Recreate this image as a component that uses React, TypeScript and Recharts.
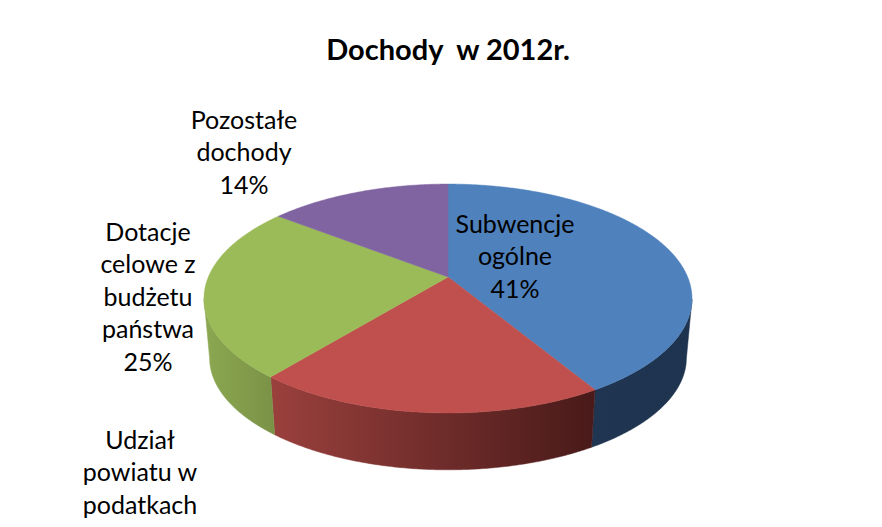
import { PieChart, Pie } from 'recharts';

const title = 'Dochody\u00a0 w 2012r.';
const categories = ['Subwencje ogólne', 'Udział powiatu w podatkach', 'Dotacje celowe z budżetu państwa', 'Pozostałe dochody'];
const shares = [41.4, 19.5, 24.61, 14.49];
const labelLines = [
  ['Subwencje', 'ogólne', '41%'],
  ['Udział', 'powiatu w', 'podatkach'],
  ['Dotacje', 'celowe z', 'budżetu', 'państwa', '25%'],
  ['Pozostałe', 'dochody', '14%'],
];
const topColors = ['#4f81bd', '#c0504d', '#9bbb59', '#8064a2'];
// side wall gradient, left to right
const sideFrom = ['#1f3551', '#9a403d', '#8ca851', '#5f4a7a'];
const sideTo = ['#1e334e', '#481a19', '#7b9347', '#5f4a7a'];

const data = categories.map((name, i) => ({ name, value: shares[i] }));

const FONT = 'Lato, "Open Sans", sans-serif';
const SQUASH = 0.469; // ellipse height / width of the top face
const TILT = -0.188; // how far the apex sits above the ellipse centre
const DROP = 59.5; // depth of the wall
const SHRINK = 0.977; // far end of the wall is a bit smaller

// where each label block is centred, and the y of the first line
const labelAnchor = [
  { x: 515, y: 222.5 },
  { x: 140, y: 438.5 },
  { x: 148, y: 230.5 },
  { x: 244, y: 118.5 },
];
const LINE = 32.5;

// circle angle -> point on the unit disc as the tilted view shows it
const project = (deg: number) => {
  const r = (deg * Math.PI) / 180;
  const x = Math.cos(r);
  const y = -Math.sin(r);
  const d = 1 + TILT * y;
  return { x: (x * Math.sqrt(1 - TILT * TILT)) / d, y: (y + TILT) / d };
};

const Slice = (props: any) => {
  const { cx, cy, outerRadius, startAngle, endAngle, index } = props;
  const rx = outerRadius;
  const ry = outerRadius * SQUASH;
  const steps = Math.ceil(Math.abs(endAngle - startAngle) * 2);
  const pts = Array.from({ length: steps + 1 }, (_, i) =>
    project(startAngle + ((endAngle - startAngle) * i) / steps),
  );
  const top = (p: { x: number; y: number }) => `${cx + p.x * rx} ${cy + p.y * ry}`;
  const low = (p: { x: number; y: number }) =>
    `${cx + p.x * rx * SHRINK} ${cy + DROP + p.y * ry * SHRINK}`;
  const front = pts.filter((p) => p.y >= 0);
  const apexY = cy + TILT * ry;
  const face = `M${cx} ${apexY} L${pts.map(top).join(' L')} Z`;
  const wall = front.length
    ? `M${front.map(top).join(' L')} L${[...front].reverse().map(low).join(' L')} Z`
    : '';
  const xs = front.map((p) => cx + p.x * rx);
  const id = `wall-${index}`;
  return (
    <g>
      {wall && (
        <>
          <linearGradient id={id} gradientUnits="userSpaceOnUse" x1={Math.min(...xs)} x2={Math.max(...xs)} y1={0} y2={0}>
            <stop offset="0%" stopColor={sideFrom[index]} />
            <stop offset="100%" stopColor={sideTo[index]} />
          </linearGradient>
          <path d={wall} fill={`url(#${id})`} stroke={`url(#${id})`} strokeWidth={0.5} />
        </>
      )}
      <path d={face} fill={topColors[index]} stroke={topColors[index]} strokeWidth={0.5} />
    </g>
  );
};

const SliceLabel = ({ index }: any) => (
  <text fontFamily={FONT} fontSize={25} fill="#000" textAnchor="middle" dominantBaseline="central">
    {labelLines[index].map((line, i) => (
      <tspan key={i} x={labelAnchor[index].x} y={labelAnchor[index].y + i * LINE}>
        {line}
      </tspan>
    ))}
  </text>
);

export default function App() {
  return (
    <div style={{ position: 'fixed', left: 0, top: 0, width: 882, height: 527, background: '#fff' }}>
      <PieChart width={882} height={527} margin={{ top: 0, right: 0, bottom: 0, left: 0 }}>
        <text x={448} y={48} textAnchor="middle" dominantBaseline="central" fontFamily={FONT} fontWeight={700} fontSize={29} fill="#000">
          {title}
        </text>
        <Pie
          data={data}
          dataKey="value"
          nameKey="name"
          cx={448}
          cy={298.5}
          innerRadius={0}
          outerRadius={244}
          startAngle={90}
          endAngle={-270}
          stroke="none"
          labelLine={false}
          label={SliceLabel}
          shape={Slice}
          isAnimationActive={false}
        />
      </PieChart>
    </div>
  );
}
